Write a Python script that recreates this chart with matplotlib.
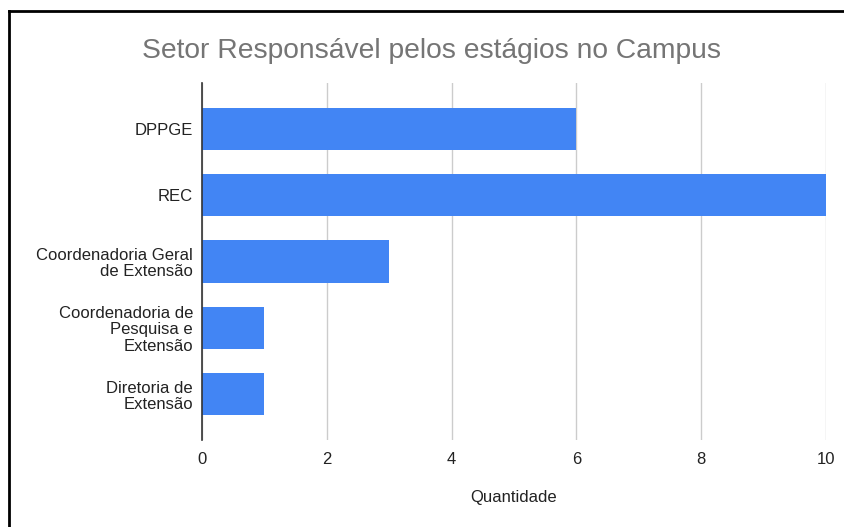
import matplotlib.pyplot as plt
from matplotlib.lines import Line2D

# data
setores = ["DPPGE", "REC", "Coordenadoria Geral\nde Extensão",
           "Coordenadoria de\nPesquisa e\nExtensão", "Diretoria de\nExtensão"]
quantidade = [6, 10, 3, 1, 1]
xticks = [0, 2, 4, 6, 8, 10]

plt.rcParams['font.family'] = ['Liberation Sans', 'DejaVu Sans']

W, H = 844, 527
fig = plt.figure(figsize=(W / 100, H / 100), dpi=100)
ax = fig.add_axes([202 / W, 1 - 440 / H, (826 - 202) / W, (440 - 83) / H])

ypos = list(range(len(setores)))
ax.barh(ypos, quantidade, height=0.64, color="#4285f4", zorder=3)
ax.set_ylim(len(setores) - 1 + 0.69, -0.69)
ax.set_xlim(0, 10)

ax.set_xticks(xticks)
ax.set_xticklabels([str(t) for t in xticks], fontsize=12, color="#222222")
ax.set_yticks(ypos)
ax.set_yticklabels(setores, fontsize=12, color="#222222", linespacing=1.1)
ax.tick_params(length=0)
ax.tick_params(axis="y", pad=6.5)
ax.tick_params(axis="x", pad=9)

ax.grid(axis="x", color="#cccccc", linewidth=1, zorder=0)
for s in ["top", "right", "bottom"]:
    ax.spines[s].set_visible(False)
ax.spines["left"].set_color("#333333")
ax.spines["left"].set_linewidth(1.2)
ax.spines["left"].set_zorder(4)

ax.set_xlabel("Quantidade", fontsize=12, color="#222222", labelpad=16)
fig.text(431 / W, 1 - 51 / H, "Setor Responsável pelos estágios no Campus",
         fontsize=20.3, color="#757575", ha="center", va="center")

# black frame on top and left edges of the screenshot
fig.add_artist(Line2D([9 / W, 1], [1 - 11 / H, 1 - 11 / H], color="black", linewidth=2))
fig.add_artist(Line2D([9 / W, 9 / W], [0, 1 - 11 / H], color="black", linewidth=2))

fig.savefig("out.png", dpi=100)
